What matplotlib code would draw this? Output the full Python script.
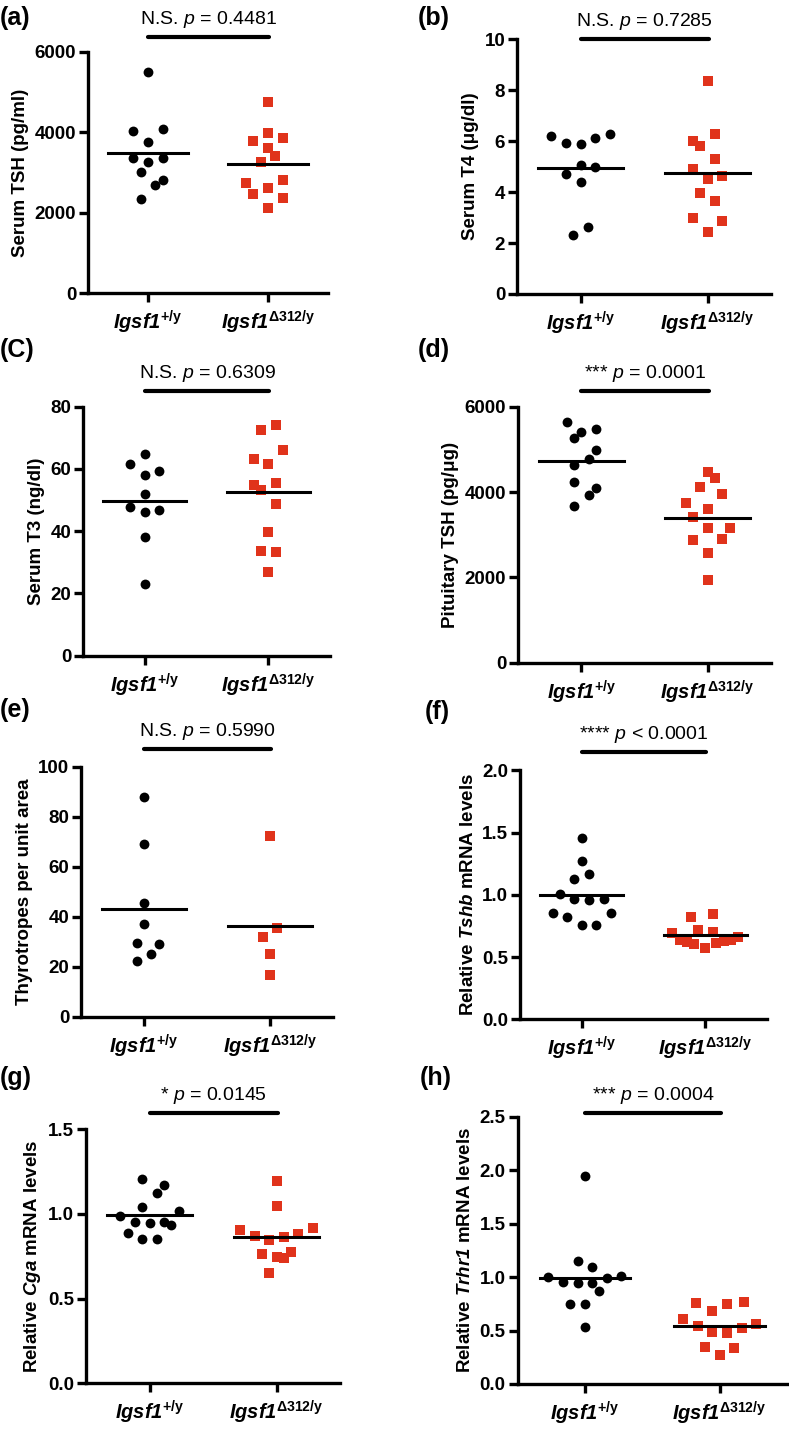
import numpy as np
import matplotlib.pyplot as plt

plt.rcParams['font.family'] = ['Liberation Sans', 'DejaVu Sans']
plt.rcParams['mathtext.fontset'] = 'custom'
plt.rcParams['mathtext.rm'] = 'Liberation Sans'
plt.rcParams['mathtext.it'] = 'Liberation Sans:italic'
plt.rcParams['mathtext.bf'] = 'Liberation Sans:bold'
plt.rcParams['mathtext.bfit'] = 'Liberation Sans:italic:bold'

# group labels
groups = ['Igsf1$^{\\mathbf{+/y}}$', 'Igsf1$^{\\mathbf{\u0394312/y}}$']

# (a) serum TSH
a_wt = [5493, 4045, 4086, 3762, 3370, 3254, 3354, 3021, 2805, 2688, 2338]
a_ko = [4752, 3787, 3986, 3870, 3620, 3420, 3254, 2746, 2813, 2463, 2605, 2355, 2105]
# (b) serum T4
b_wt = [6.22, 5.94, 5.89, 6.14, 6.27, 5.08, 4.73, 5.00, 4.41, 2.62, 2.30]
b_ko = [8.38, 6.27, 6.02, 5.82, 5.29, 4.92, 4.63, 4.52, 3.98, 3.66, 2.98, 2.88, 2.43]
# (c) serum T3
c_wt = [64.7, 61.6, 58.2, 59.5, 51.8, 47.7, 46.2, 46.8, 38.1, 22.9]
c_ko = [74.2, 72.5, 66.1, 63.3, 61.7, 54.9, 53.2, 55.6, 48.7, 39.9, 33.6, 33.3, 26.8]
# (d) pituitary TSH
d_wt = [5641, 5414, 5477, 5273, 4984, 4766, 4625, 4234, 4102, 3922, 3664]
d_ko = [4461, 4320, 4117, 3961, 3750, 3602, 3406, 3156, 3148, 2867, 2906, 2563, 1945]
# (e) thyrotropes
e_wt = [87.7, 69.1, 45.6, 37.1, 29.3, 29.1, 25.1, 22.4]
e_ko = [72.4, 35.6, 31.9, 25.2, 16.5]
# (f) Tshb mRNA
f_wt = [1.454, 1.272, 1.130, 1.170, 1.009, 0.966, 0.961, 0.966, 0.857, 0.822, 0.857, 0.755, 0.760]
f_ko = [0.843, 0.824, 0.717, 0.704, 0.691, 0.663, 0.640, 0.620, 0.605, 0.570, 0.610, 0.625, 0.640]
# (g) Cga mRNA
g_wt = [1.207, 1.173, 1.126, 1.043, 0.990, 1.016, 0.955, 0.945, 0.955, 0.935, 0.886, 0.850, 0.850]
g_ko = [1.193, 1.047, 0.906, 0.919, 0.872, 0.882, 0.846, 0.866, 0.762, 0.778, 0.748, 0.738, 0.654]
# (h) Trhr1 mRNA
h_wt = [1.942, 1.153, 1.097, 0.998, 0.957, 0.942, 0.948, 0.989, 1.010, 0.870, 0.748, 0.748, 0.530]
h_ko = [0.761, 0.686, 0.748, 0.764, 0.608, 0.543, 0.489, 0.474, 0.527, 0.561, 0.343, 0.271, 0.334]

# horizontal scatter slots
a_wt_jit = [0, -2, 2, 0, -2, 0, 2, -1, 2, 1, -1]
a_ko_jit = [0, -2, 0, 2, 0, 1, -1, -3, 2, -2, 0, 2, 0]
b_wt_jit = [-4, -2, 0, 2, 4, 0, -2, 2, 0, 1, -1]
b_ko_jit = [0, 1, -2, -1, 1, -2, 2, 0, -1, 1, -2, 2, 0]
c_wt_jit = [0, -2, 0, 2, 0, -2, 0, 2, 0, 0]
c_ko_jit = [1, -1, 2, -2, 0, -2, -1, 1, 1, 0, -1, 1, 0]
d_wt_jit = [-2, 0, 2, -1, 2, 1, -1, -1, 2, 1, -1]
d_ko_jit = [0, 1, -1, 2, -3, 0, -2, 3, 0, -2, 2, 0, 0]
e_wt_jit = [0, 0, 0, 0, -1, 2, 1, -1]
e_ko_jit = [0, 1, -1, 0, 0]
f_wt_jit = [0, 0, -1, 1, -3, -1, 1, 3, -4, -2, 4, 0, 2]
f_ko_jit = [1, -2, -1, 1, -4.5, 4.5, -3.5, -2.5, -1.5, 0, 1.5, 2.5, 3.5]
g_wt_jit = [-1, 2, 1, -1, -4, 4, -2, 0, 2, 3, -3, -1, 1]
g_ko_jit = [0, 0, -5, 5, -3, 3, -1, 1, -2, 2, 0, 1, -1]
h_wt_jit = [0, -1, 1, -5, -3, -1, 1, 3, 5, 2, -2, 0, 0]
h_ko_jit = [-3.3, -1, 1, 3.3, -5, -3, -1, 1, 3, 5, -2, 0, 2]

W, H = 789, 1439
RED = '#E0331B'
fig = plt.figure(figsize=(W / 100, H / 100), dpi=100)


def rect(l, t, r, b):
    return [l / W, 1 - b / H, (r - l) / W, (b - t) / H]


def panel(box, wt, wt_jit, ko, ko_jit, ymax, ystep, fmt, ylabel, sig, bar_y):
    ax = fig.add_axes(rect(*box))
    width_px = box[2] - box[0]
    slot = 7.3 * 2.0 / width_px
    ax.scatter(np.array(wt_jit) * slot, wt, s=50, marker='o', color='black',
               linewidths=0, zorder=2, clip_on=False)
    ax.scatter(1 + np.array(ko_jit) * slot, ko, s=46, marker='s', color=RED,
               linewidths=0, zorder=2, clip_on=False)
    for x, vals in [(0, wt), (1, ko)]:
        m = np.mean(vals)
        ax.plot([x - 0.335, x + 0.335], [m, m], color='black', lw=2.2, zorder=3)
    ax.set_xlim(-0.5, 1.5)
    ax.set_ylim(0, ymax)
    ax.set_xticks([0, 1])
    ax.set_xticklabels(groups, fontsize=14.5, fontweight='bold', fontstyle='italic')
    ticks = np.arange(0, ymax + ystep / 2, ystep)
    ax.set_yticks(ticks)
    ax.set_yticklabels([fmt % t for t in ticks], fontsize=13.5, fontweight='bold')
    ax.set_ylabel(ylabel, fontsize=13.5, fontweight='bold', labelpad=4)
    for s in ['top', 'right']:
        ax.spines[s].set_visible(False)
    for s in ['left', 'bottom']:
        ax.spines[s].set_linewidth(2.4)
    ax.tick_params(width=2.4, length=6.5, pad=2)
    ax.tick_params(axis='x', pad=5)
    tr = ax.get_xaxis_transform()
    ax.plot([0, 1.01], [bar_y, bar_y], color='black', lw=3, transform=tr,
            clip_on=False, solid_capstyle='round')
    ax.annotate(sig, xy=(0.505, bar_y), xycoords=tr, xytext=(0, 12.5),
                textcoords='offset points', ha='center', va='center', fontsize=14)
    return ax


panel((88, 52, 328, 293), a_wt, a_wt_jit, a_ko, a_ko_jit, 6000, 2000, '%d',
      'Serum TSH (pg/ml)', 'N.S. $p$ = 0.4481', 1.062)
panel((517, 39.3, 771, 294), b_wt, b_wt_jit, b_ko, b_ko_jit, 10, 2, '%d',
      'Serum T4 (\u03bcg/dl)', 'N.S. $p$ = 0.7285', 1.0)
panel((83, 406.7, 330, 655.7), c_wt, c_wt_jit, c_ko, c_ko_jit, 80, 20, '%d',
      'Serum T3 (ng/dl)', 'N.S. $p$ = 0.6309', 1.064)
panel((518, 406.7, 771, 662.7), d_wt, d_wt_jit, d_ko, d_ko_jit, 6000, 2000, '%d',
      'Pituitary TSH (pg/\u03bcg)', '*** $p$ = 0.0001', 1.0625)
panel((81, 766.7, 333, 1016.7), e_wt, e_wt_jit, e_ko, e_ko_jit, 100, 20, '%d',
      'Thyrotropes per unit area', 'N.S. $p$ = 0.5990', 1.071)
panel((520, 770.3, 767, 1019.3), f_wt, f_wt_jit, f_ko, f_ko_jit, 2.0, 0.5, '%.1f',
      'Relative $\\mathbfit{Tshb}$ mRNA levels', '**** $p$ < 0.0001', 1.073)
panel((86, 1129.3, 340, 1383.3), g_wt, g_wt_jit, g_ko, g_ko_jit, 1.5, 0.5, '%.1f',
      'Relative $\\mathbfit{Cga}$ mRNA levels', '* $p$ = 0.0145', 1.065)
panel((517.5, 1116.7, 787, 1384), h_wt, h_wt_jit, h_ko, h_ko_jit, 2.5, 0.5, '%.1f',
      'Relative $\\mathbfit{Trhr1}$ mRNA levels', '*** $p$ = 0.0004', 1.013)

# panel letters
for lab, x, y in [('(a)', 0, 18), ('(b)', 418, 18), ('(C)', 0, 350), ('(d)', 418, 350),
                  ('(e)', 0, 710), ('(f)', 425, 712), ('(g)', 0, 1078), ('(h)', 420, 1078)]:
    fig.text(x / W, 1 - y / H, lab, fontsize=18, fontweight='bold', ha='left', va='center')

fig.savefig('out.png', dpi=100)
